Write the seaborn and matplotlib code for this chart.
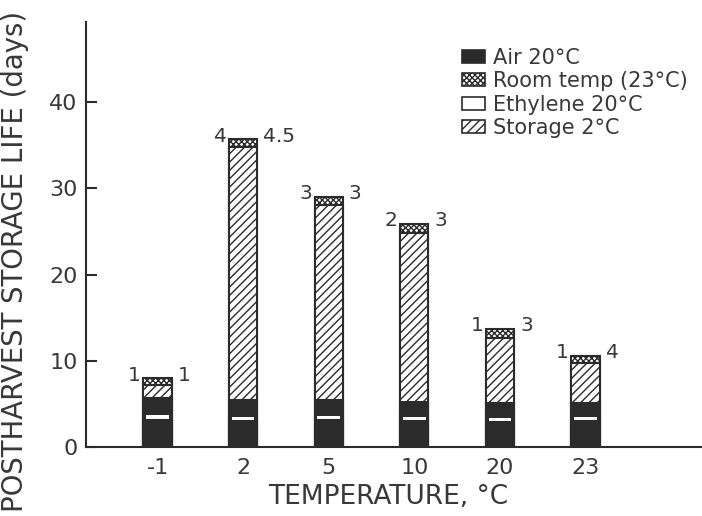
import numpy as np
import matplotlib
matplotlib.use("Agg")
import matplotlib.pyplot as plt
from matplotlib.patches import Patch
import seaborn as sns

# ---- data (days) ----
categories = ["-1", "2", "5", "10", "20", "23"]
air_lower = [3.1, 3.05, 3.1, 3.0, 2.9, 3.0]      # dark part below the white band
ethylene_band = [0.6, 0.45, 0.45, 0.45, 0.5, 0.45]  # white band (Ethylene 20°C)
air_upper = [2.0, 1.95, 1.9, 1.75, 1.7, 1.65]    # dark part above the white band
storage = [1.5, 29.35, 22.65, 19.6, 7.5, 4.6]    # Storage 2°C (hatched)
room = [0.8, 0.9, 0.9, 1.1, 1.1, 0.9]            # Room temp (23°C)
left_labels = ["1", "4", "3", "2", "1", "1"]
right_labels = ["1", "4.5", "3", "3", "3", "4"]

sns.set_theme(style="white")
plt.rcParams["font.family"] = ["DejaVu Sans"]
plt.rcParams["hatch.linewidth"] = 1.0

ink = "#2b2b2b"
txt = "#383838"

fig = plt.figure(figsize=(7.02, 5.16), dpi=100)
fig.patch.set_facecolor("white")
ax = fig.add_axes([86 / 702, 69 / 516, 616 / 702, 425 / 516])
ax.set_facecolor("white")

segs = np.array([air_lower, ethylene_band, air_upper, storage, room])
cum = np.cumsum(segs, axis=0)
W = 0.33

common = dict(x=categories, order=categories, ax=ax, width=W, saturation=1,
              errorbar=None)
# total -> room temp layer
sns.barplot(y=cum[4], color="white", edgecolor=ink, linewidth=1.5,
            hatch="xxxxxx", **common)
# storage layer
sns.barplot(y=cum[3], color="white", edgecolor=ink, linewidth=1.5,
            hatch="////", **common)
# air (upper) layer
sns.barplot(y=cum[2], color=ink, edgecolor=ink, linewidth=1.5, **common)
# ethylene white band
sns.barplot(y=cum[1], color="white", edgecolor="white", linewidth=0,
            **{**common, "width": W * 0.8})
# air lower
sns.barplot(y=cum[0], color=ink, edgecolor=ink, linewidth=1.5, **common)

ax.set_xlim((86 - 157.5) / 85.6, (702 - 157.5) / 85.6)
ax.set_ylim(0, 49.3)

tops = cum[4]
for i, t in enumerate(tops):
    ax.text(i - W / 2 - 0.03, t + 0.35, left_labels[i], ha="right", va="center",
            fontsize=14.5, color=txt)
    ax.text(i + W / 2 + 0.07, t + 0.35, right_labels[i], ha="left", va="center",
            fontsize=14.5, color=txt)

ax.set_yticks([0, 10, 20, 30, 40])
ax.tick_params(axis="y", direction="in", length=8, width=1.5, color=ink,
               pad=6, labelsize=16, labelcolor=txt, left=True)
ax.tick_params(axis="x", length=0, pad=8, labelsize=16, labelcolor=txt)

for s in ["top", "right"]:
    ax.spines[s].set_visible(False)
for s in ["left", "bottom"]:
    ax.spines[s].set_color(ink)
    ax.spines[s].set_linewidth(1.5)

ax.set_xlabel("TEMPERATURE, °C", fontsize=19, color=txt)
ax.set_ylabel("POSTHARVEST STORAGE LIFE (days)", fontsize=19.8, color=txt)
ax.xaxis.set_label_coords(0.49, -0.086)
ax.yaxis.set_label_coords(-0.092, 0.437)

handles = [
    Patch(facecolor=ink, edgecolor=ink, linewidth=1.2),
    Patch(facecolor="white", edgecolor=ink, hatch="xxxxxx", linewidth=1.2),
    Patch(facecolor="white", edgecolor=ink, linewidth=1.2),
    Patch(facecolor="white", edgecolor=ink, hatch="////", linewidth=1.2),
]
labels = ["Air 20°C", "Room temp (23°C)", "Ethylene 20°C", "Storage 2°C"]
leg = ax.legend(handles, labels, loc="upper left",
                bbox_to_anchor=(462 / 702, 1 - 48 / 516),
                bbox_transform=fig.transFigure, frameon=False, fontsize=15,
                handlelength=1.1, handleheight=0.58, handletextpad=0.4,
                labelspacing=0.16, borderpad=0, borderaxespad=0)
for t in leg.get_texts():
    t.set_color(txt)

fig.savefig("out.png", dpi=100, facecolor="white")
